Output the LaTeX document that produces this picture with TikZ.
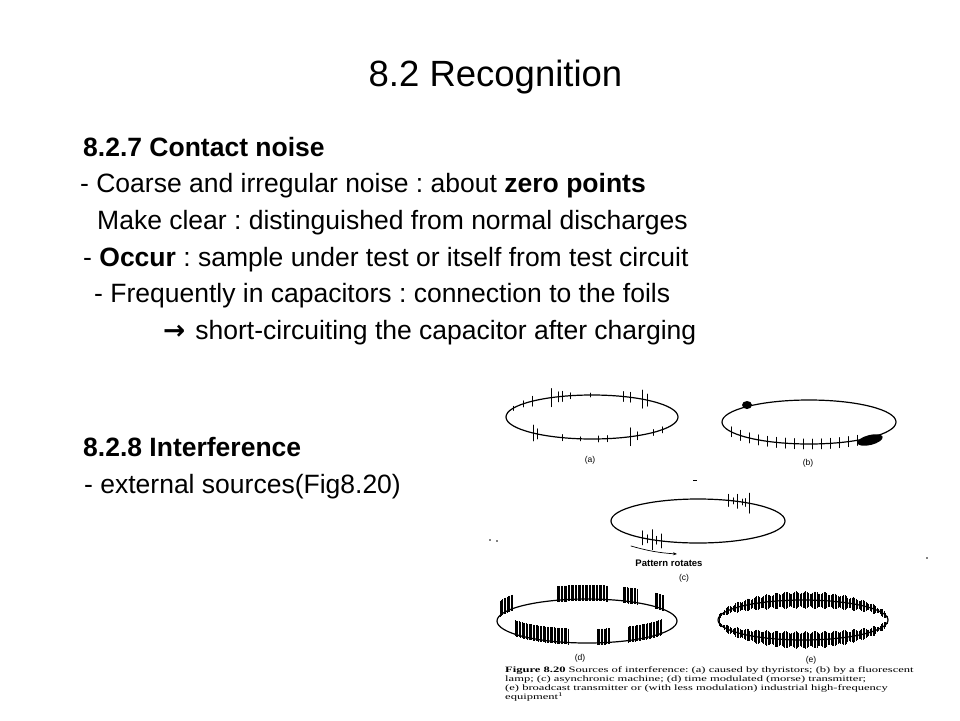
\documentclass[tikz,border=0pt]{standalone}
\usepackage{fontspec}
\setmainfont{Liberation Sans}
\newfontfamily\arrowfont{DejaVu Sans}
\newfontfamily\capfont{Liberation Serif}[FakeStretch=1.53]
\usetikzlibrary{arrows.meta}

\begin{document}
\frenchspacing
\begin{tikzpicture}[x=1pt,y=-1pt,
  declare function={etop(\x,\cx,\cy,\rx,\ry)=\cy-\ry*sqrt(1-(\x-\cx)*(\x-\cx)/(\rx*\rx));
    ebot(\x,\cx,\cy,\rx,\ry)=\cy+\ry*sqrt(1-(\x-\cx)*(\x-\cx)/(\rx*\rx));},
  txt/.style={anchor=base west,inner sep=0pt,font=\fontsize{26.5}{30}\selectfont},
  figlbl/.style={inner sep=0pt,font=\fontsize{8.5}{10}\selectfont},
  trace/.style={line width=1.2pt,line cap=round},
  burst/.style={line width=0.8pt}]
\fill[white] (0,0) rectangle (960,720);
\node[anchor=base,inner sep=0pt,font=\fontsize{36.5}{40}\selectfont] (title) at (495.5,86) {8.2 Recognition};
\node[txt] (h1) at (83,156) {\bfseries 8.2.7 Contact noise};
\node[txt] (l1) at (80,192) {- Coarse and irregular noise : about \textbf{zero points}};
\node[txt] (l2) at (97,229) {Make clear : distinguished from normal discharges};
\node[txt] (l3) at (83,266) {- \textbf{Occur} : sample under test or itself from test circuit};
\node[txt] (l4) at (94,302) {- Frequently in capacitors : connection to the foils};
\node[txt] (l5) at (163,339) {{\arrowfont\bfseries →}\hspace{10pt}short-circuiting the capacitor after charging};
\node[txt] (h2) at (83,456) {\bfseries 8.2.8 Interference};
\node[txt] (l6) at (84,493) {- external sources(Fig8.20)};

\draw[trace] (592,417) ellipse [x radius=86,y radius=22];
\foreach \x/\h in {513/2,523/3,532/5,551/9,558/5,562/5,570/3,590/2,623/5,630/5,642/9,647/6}
  \draw[trace,line width=0.9pt] ({\x},{etop(\x,592,417,86,22)-\h}) -- ++(0,{2*\h});
\foreach \x/\h in {533/8,537/5,562/3,580/2,598/3,607/3,630/9,637/4,653/3,662/3}
  \draw[trace,line width=0.9pt] ({\x},{ebot(\x,592,417,86,22)-\h}) -- ++(0,{2*\h});
\node[figlbl] (lbla) at (590,460) {(a)};

\draw[trace] (809,422) ellipse [x radius=87,y radius=22];
\foreach \x in {731,740,...,858}
  \draw[trace,line width=0.9pt] ({\x},{ebot(\x,809,422,87,22)-5}) -- ++(0,10);
\fill (747,405) ellipse [x radius=5,y radius=4];
\fill[rotate around={14:(870,440)}] (870,440) ellipse [x radius=13,y radius=5];
\node[figlbl] (lblb) at (808,463) {(b)};

\draw[trace] (698,521) ellipse [x radius=87,y radius=22];
\foreach \x/\h in {728/6,733/3,737/7,742/3,745/4,749/10}
  \draw[trace,line width=0.8pt] ({\x},{etop(\x,698,521,87,22)-\h}) -- ++(0,{2*\h});
\foreach \x/\h in {642/7,647/4,652/10,656/4,661/7}
  \draw[trace,line width=0.8pt] ({\x},{ebot(\x,698,521,87,22)-\h}) -- ++(0,{2*\h});
\coordinate (rotS) at (631,546);
\coordinate (rotE) at (677,554);
\draw[trace,line width=0.7pt,-{Stealth[length=4pt,width=3pt]}] (rotS) to[bend right=6] (rotE);
\node[inner sep=0pt,font=\bfseries\fontsize{9.5}{10}\selectfont] (rot) at (669,563) {Pattern rotates};
\node[figlbl] (lblc) at (684,578) {(c)};
\fill (693,480) rectangle (697,481);
\fill (490,540) circle [radius=0.8];
\fill (497,541) circle [radius=0.8];
\fill (927,558) circle [radius=0.8];

\draw[trace] (587,621) ellipse [x radius=90,y radius=22];
\foreach \a/\n in {500/9,557/36,623/10,655/6}
  \foreach \i in {0,...,\n}
    \draw[burst] ({\a+1.4*\i},{etop(\a+1.4*\i,587,621,90,22)-14}) -- ++(0,16);
\foreach \a/\n in {515/38,597/9,628/24}
  \foreach \i in {0,...,\n}
    \draw[burst] ({\a+1.4*\i},{ebot(\a+1.4*\i,587,621,90,22)-14}) -- ++(0,16);
\node[figlbl] (lbld) at (580,658) {(d)};

\draw[trace] (803,620) ellipse [x radius=85,y radius=20];
\foreach \x in {719,720.4,...,887} {
  \pgfmathsetmacro\hh{2+5.5*(1-(\x-803)*(\x-803)/7225)+1.2*sin(37*(\x-803))}
  \draw[burst,line width=0.95pt] ({\x},{etop(\x,803,620,85,20)-\hh}) -- ++(0,{2*\hh});
  \draw[burst,line width=0.95pt] ({\x},{ebot(\x,803,620,85,20)-\hh}) -- ++(0,{2*\hh});
}
\node[figlbl] (lble) at (811,660) {(e)};

\node[anchor=north west,inner sep=0pt,align=left,font=\capfont\fontsize{8.2}{8.8}\selectfont] (cap) at (505,667)
  {\textbf{Figure 8.20} Sources of interference: (a) caused by thyristors; (b) by a fluorescent\\
   lamp; (c) asynchronic machine; (d) time modulated (morse) transmitter;\\
   (e) broadcast transmitter or (with less modulation) industrial high-frequency\\
   equipment\textsuperscript{1}};
\end{tikzpicture}
\end{document}
